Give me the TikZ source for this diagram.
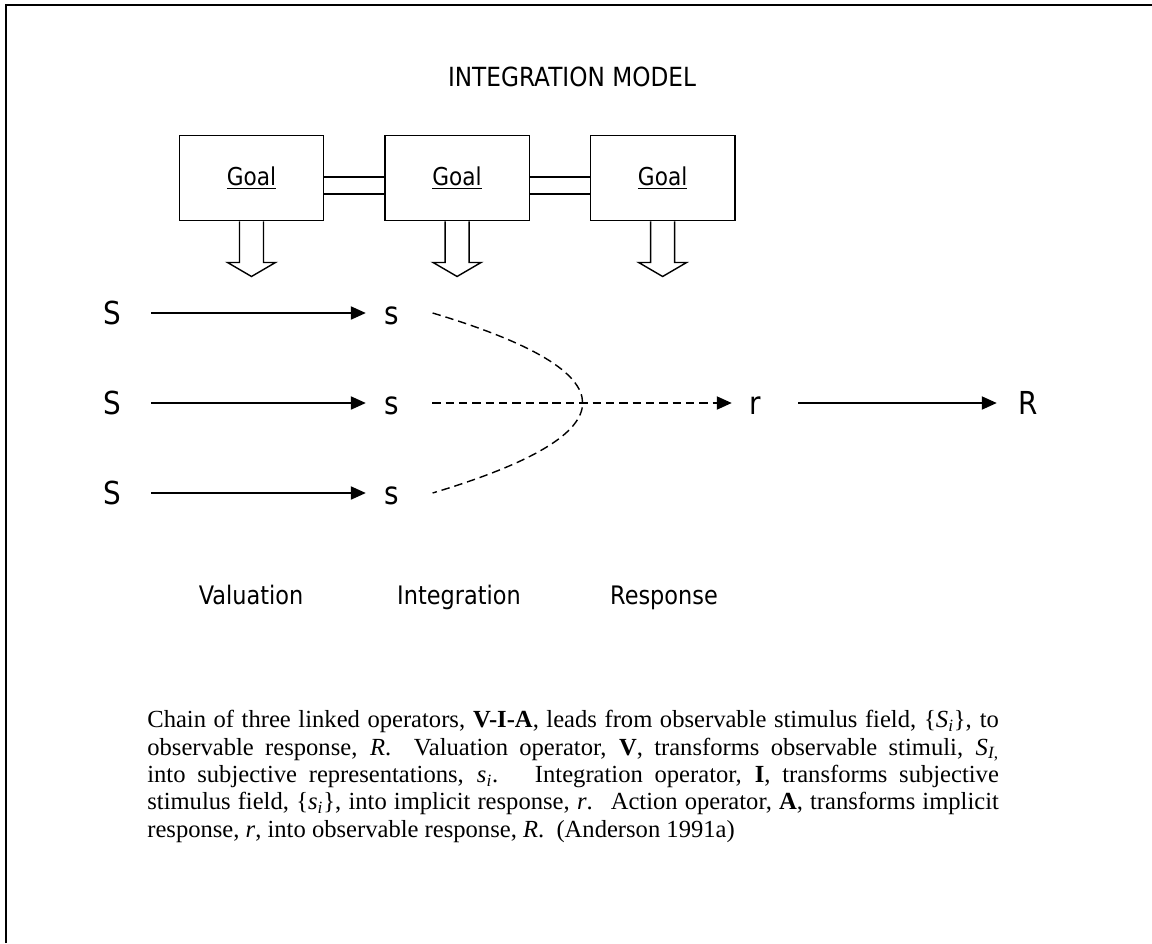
\documentclass[tikz,border=0pt]{standalone}
\usepackage{fontspec}
\setmainfont{Liberation Serif}
\newfontfamily\modelfont[FakeStretch=0.88]{DejaVu Sans}
\usepackage{tikz}
\usetikzlibrary{positioning, calc, arrows.meta}
\newcommand{\varsub}[2]{\textit{#1}\textsubscript{\textit{#2}}}

\begin{document}
\begin{tikzpicture}[x=0.02cm, y=-0.02cm, >={Triangle[length=8.5pt, width=7.5pt]},
    goalbox/.style={draw, line width=0.8pt, minimum width=82.2pt, minimum height=48.7pt, inner sep=0pt, font=\modelfont\fontsize{14}{16}\selectfont},
    letter/.style={inner sep=0pt, text height=13.1pt, text depth=0pt, font=\modelfont\fontsize{18}{21}\selectfont},
    stage/.style={inner sep=0pt, font=\modelfont\fontsize{14.5}{17}\selectfont},
    link/.style={->, line width=0.8pt},
    dashlink/.style={line width=0.8pt, dash pattern=on 4.8pt off 2.8pt},
    caption/.style={inner sep=0pt, text width=484.7pt, align=justify, font=\fontsize{14}{15.6}\selectfont}]
    \useasboundingbox (0,0) rectangle (1152,943);

    % Frame
    \draw[line width=1.2pt] (6,943) -- (6,5) -- (1152,5);

    % Title
    \node[font=\modelfont\fontsize{15}{18}\selectfont, inner sep=0pt] (title) at (572,77) {INTEGRATION MODEL};

    % Goals
    \node[goalbox] (g1) at (251.5,178) {\underline{Goal}};
    \node[goalbox, right=34pt of g1] (g2) {\underline{Goal}};
    \node[goalbox, right=34pt of g2] (g3) {\underline{Goal}};
    % Links between goals
    \foreach \a/\b in {g1/g2, g2/g3} {
        \draw[line width=0.8pt] ($(\a.east)+(0,-1)$) -- ($(\b.west)+(0,-1)$);
        \draw[line width=0.8pt] ($(\a.east)+(0,16)$) -- ($(\b.west)+(0,16)$);
    }
    % Block arrows
    \foreach \g in {g1, g2, g3}
        \draw[line width=0.8pt] (\g.south) ++(-12,0) -- ++(0,41) -- ++(-12,0) -- ++(24,14) -- ++(24,-14) -- ++(-12,0) -- ++(0,-41);

    % Stimuli
    \foreach \i/\y in {1/313, 2/403, 3/493} {
        \node[letter] (S\i) at (112,\y) {S};
        \node[letter] (s\i) at (392,\y) {s};
        \draw[link, shorten <=17.1pt, shorten >=10.6pt] (S\i) -- (s\i);
    }
    % Responses
    \node[letter] (r) at (755,403) {r};
    \node[letter] (R) at (1028,403) {R};
    \draw[link, dashlink, shorten <=18.6pt, shorten >=9.8pt] (s2) -- (r);
    \draw[link, shorten <=21.2pt, shorten >=12.1pt] (r) -- (R);
    % Integration curve
    \draw[dashlink] ($(s1.east)+(33,0)$) .. controls +(200,60) and +(200,-60) .. ($(s3.east)+(33,0)$);

    % Stages
    \node[stage, anchor=base] (val) at (251,604) {Valuation};
    \node[stage, anchor=base] (int) at (459,604) {Integration};
    \node[stage, anchor=base] (res) at (664,604) {Response};

    % Caption
    \node[caption, anchor=north west] (cap) at (147,710) {Chain of three linked operators, \textbf{V-I-A}, leads from observable stimulus field, \{\varsub{S}{i}\}, to\linebreak
    observable response, \textit{R}. \ Valuation operator, \textbf{V}, transforms observable stimuli, \textit{S}\textsubscript{\textit{I},}\linebreak
    into subjective representations, \varsub{s}{i}. \ Integration operator, \textbf{I}, transforms subjective\linebreak
    stimulus field, \{\varsub{s}{i}\}, into implicit response, \textit{r}. \ Action operator, \textbf{A}, transforms implicit\linebreak
    response, \textit{r}, into observable response, \textit{R}. \ (Anderson 1991a)};
\end{tikzpicture}
\end{document}
